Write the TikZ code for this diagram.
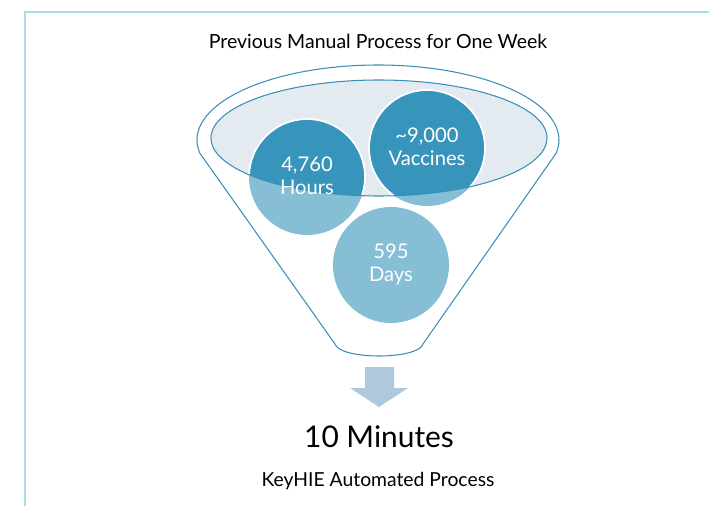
\documentclass[tikz,border=0pt]{standalone}
\usepackage{fontspec}
\setmainfont{Lato}
\usetikzlibrary{positioning}
\definecolor{framecol}{HTML}{A6DEE2}
\definecolor{funnelcol}{HTML}{3A8FBA}
\definecolor{rimfill}{HTML}{E3EBF1}
\definecolor{darkbub}{HTML}{3795BB}
\definecolor{lightbub}{HTML}{86BED5}
\definecolor{arrowcol}{HTML}{AEC8DC}

\begin{document}
\begin{tikzpicture}[x=0.02cm,y=-0.02cm,
  bubble/.style={circle,minimum size=2.32cm,inner sep=0pt,align=center,text=white,
    font=\fontsize{11.5}{13}\selectfont},
  funnel/.style={draw=funnelcol,line width=0.6pt}]
\useasboundingbox (0,0) rectangle (709,506);
% frame
\draw [framecol,line width=1.2pt] (25,506) -- (25,12) -- (709,12);
\node (title) at (378,41) {\fontsize{11.1}{13}\selectfont Previous Manual Process for One Week};
% funnel body
\draw [funnel] (378,140) ++(170:181 and 75) arc [start angle=170,end angle=370,x radius=181,y radius=75]
  -- (423,344) .. controls (418,360) and (340,360) .. (335,344) -- cycle;
\fill [rimfill] (379,138) ellipse [x radius=168,y radius=58];
% bubbles
\fill [lightbub] (307,177) circle [radius=58];
\fill [lightbub] (427,148) circle [radius=58];
\fill [lightbub] (391,265) circle [radius=58];
\begin{scope}
\clip (379,138) ellipse [x radius=168,y radius=58];
\filldraw [darkbub,draw=white,line width=1pt] (307,177) circle [radius=58];
\filldraw [darkbub,draw=white,line width=1pt] (427,148) circle [radius=58];
\end{scope}
\draw [funnel] (379,138) ellipse [x radius=168,y radius=58];
\node (hours) at (307,176) [bubble] {4,760\\Hours};
\node (vaccines) at (427,147) [bubble] {\textasciitilde 9,000\\Vaccines};
\node (days) at (391,264) [bubble] {595\\Days};
% arrow down
\fill [arrowcol] (365,367) -- (394,367) -- (394,388) -- (408,388) -- (379,407) -- (350,388) -- (365,388) -- cycle;
\node (minutes) at (379,437) {\fontsize{17}{20}\selectfont 10 Minutes};
\node (auto) at (378,481) {\fontsize{11}{13}\selectfont KeyHIE Automated Process};
\end{tikzpicture}
\end{document}
